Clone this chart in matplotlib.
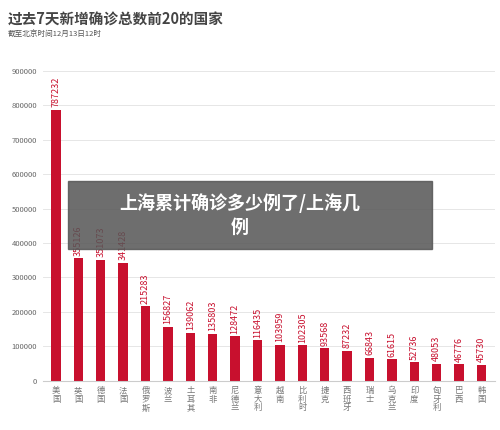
import matplotlib
matplotlib.use("Agg")
import matplotlib.pyplot as plt

plt.rcParams['font.family'] = ['Noto Sans CJK SC', 'DejaVu Sans']

countries = ["美国", "英国", "德国", "法国", "俄罗斯", "波兰", "土耳其", "南非", "尼德兰", "意大利",
             "越南", "比利时", "捷克", "西班牙", "瑞士", "乌克兰", "印度", "匈牙利", "巴西", "韩国"]
cases = [787232, 355126, 351073, 341428, 215283, 156827, 139062, 135803, 128472, 116435,
         103959, 102305, 93568, 87232, 66843, 61615, 52736, 48053, 46776, 45730]
yticks = list(range(0, 900001, 100000))

RED = "#c8102e"

fig = plt.figure(figsize=(5, 4.3), dpi=100)
ax = fig.add_axes([0.085, 0.115, 0.905, 0.72])
x = range(len(countries))
ax.bar(x, cases, width=0.42, color=RED)
for i, v in zip(x, cases):
    ax.text(i, v + 8000, str(v), rotation=90, ha="center", va="bottom",
            color=RED, fontsize=6.5)

ax.set_ylim(0, 900000)
ax.set_xlim(-0.6, len(countries) - 0.4)
ax.set_yticks(yticks)
ax.set_yticklabels([str(t) for t in yticks], fontsize=5.5, color="#666666")
ax.set_xticks(list(x))
ax.set_xticklabels(["\n".join(c) for c in countries], fontsize=6,
                   color="#777777", linespacing=0.95, va="top")
ax.yaxis.grid(True, color="#e6e6e6", linewidth=0.7)
ax.set_axisbelow(True)
for s in ["top", "right", "left"]:
    ax.spines[s].set_visible(False)
ax.spines["bottom"].set_color("#cccccc")
ax.tick_params(length=0, pad=4)

fig.text(0.016, 0.955, "过去7天新增确诊总数前20的国家", fontsize=10.5,
         fontweight="bold", color="#444444", va="center")
fig.text(0.016, 0.918, "截至北京时间12月13日12时", fontsize=5.5,
         color="#555555", va="center")

# watermark banner
fig.patches.append(plt.Rectangle((0.136, 0.422), 0.728, 0.158, transform=fig.transFigure,
                                 color="#555555", alpha=0.85, zorder=5))
fig.text(0.48, 0.50, "上海累计确诊多少例了/上海几\n例", fontsize=13, fontweight="bold",
         color="white", ha="center", va="center", zorder=6, linespacing=1.3)

fig.savefig("out.png", dpi=100, facecolor="white")
